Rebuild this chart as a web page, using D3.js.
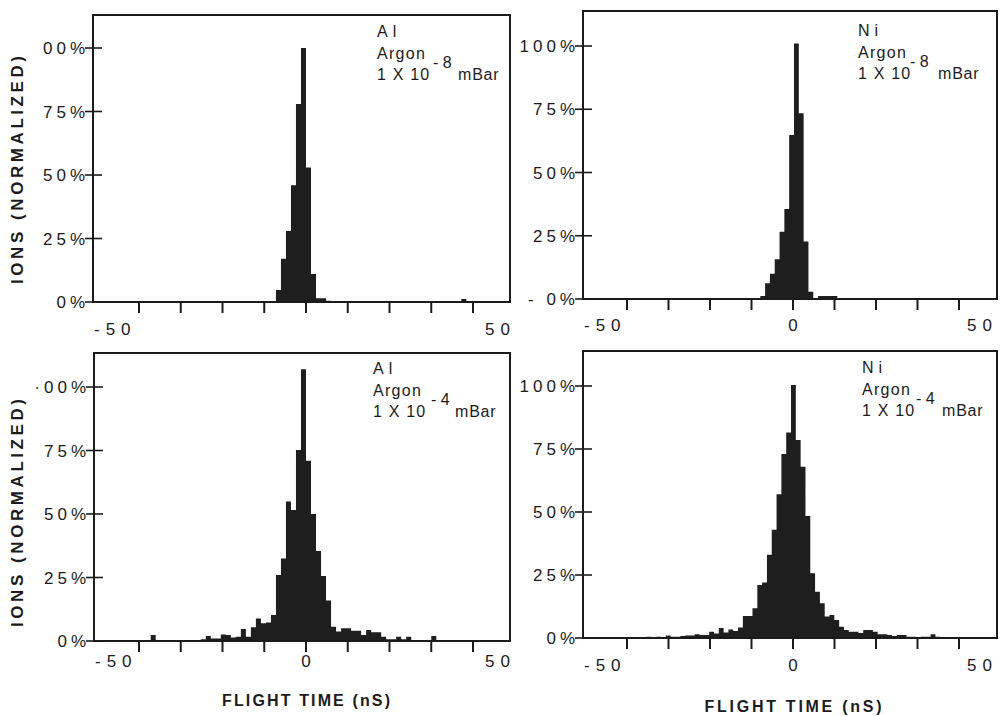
<!DOCTYPE html>
<html><head><meta charset="utf-8">
<script src="https://cdn.jsdelivr.net/npm/d3@7"></script>
<style>
body{margin:0;background:#fff}
svg{display:block}
text{font-family:"Liberation Sans",Arial,Helvetica,sans-serif;fill:#1b1b1b}
</style>
</head><body>
<svg id="c" width="1001" height="716"></svg>
<script>
// ---------- data ----------
const xTicks = [-50, -37.5, -25, -12.5, 0, 12.5, 25, 37.5, 50];
const yTicks = [0, 25, 50, 75, 100];

const yLabelsTL = ["0%", "25%", "50%", "75%", "00%"];
const yLabelsTR = ["- 0%", "25%", "50%", "75%", "100%"];
const yLabelsBL = ["0%", "25%", "50%", "75%", "\u00b700%"];
const yLabelsBR = ["0%", "25%", "50%", "75%", "100%"];

const xLabelsTL = [[-50, "-50"], [50, "50"]];
const xLabelsOther = [[-50, "-50"], [0, "0"], [50, "50"]];

// histogram values (% of maximum), contiguous bins
const alLowStart = -9, alLowWidth = 1.5;
const alLowValues = [4.7, 17, 28, 46, 78, 100, 53, 11, 1.5, 1.5, 0.5,
  0, 0, 0, 0, 0, 0, 0, 0, 0, 0, 0, 0, 0, 0, 0, 0, 0, 0, 0, 0, 0, 0, 0, 0, 0, 0, 1.2];

const niLowStart = -15.65, niLowWidth = 1.45;
const niLowValues = [0.4, 0.4, 0.4, 0.4, 1.2, 6.2, 10, 15.7, 26.6, 35.6, 64.8, 101,
  73.4, 22.7, 2.9, 0, 1.2, 1.2, 1.2, 1.2];

const alHighStart = -48, alHighWidth = 1.5;
const alHighValues = [0, 2.4, 0, 0, 0, 0, 0, 0, 0, 0, 0.3, 0.7, 2.0, 1.0, 1.0, 2.6, 2.4, 1.4, 1.7,
  4.7, 1.7, 5.4, 8.9, 7.0, 7.3, 10.2, 26, 32.5, 54.9, 51.6, 75.2, 107, 71, 50, 35.4, 25.6,
  15.9, 5.6, 3.7, 5.0, 5.0, 4.0, 4.0, 2.4, 4.3, 3.4, 3.4, 1.7, 0.7, 0.7, 1.7, 0.7, 1.7,
  0.3, 0.3, 0, 0, 2.0];

const niHighStart = -44.1, niHighWidth = 1.45;
const niHighValues = [0.5, 0, 0.5, 0.3, 1, 0.5, 0.5, 0.8, 1.0, 1.0, 1.5, 1.2, 1.2, 2.5, 1.8, 4,
  2.2, 3.4, 2.8, 4.2,
  8.7, 8.7, 11.8, 21, 22, 33, 43, 57, 73, 81.5,
  100.4,
  78.6, 68, 48.4, 25.7, 18.4, 13.8, 8.5, 9.1, 7.1, 4.5,
  3.2, 2.5, 2.5, 2.0, 3.2, 3.2, 2.5, 1.5, 1.5, 1.2, 0.8, 1.2, 1.2, 0.5, 0.5, 0.3, 0.5, 0.5,
  1.5, 0.5, 0, 0];

const annotationsTL = ["Al", "Argon", "1 X 10", "- 8", "mBar"];
const annotationsTR = ["Ni", "Argon", "1 X 10", "- 8", "mBar"];
const annotationsBL = ["Al", "Argon", "1 X 10", "- 4", "mBar"];
const annotationsBR = ["Ni", "Argon", "1 X 10", "- 4", "mBar"];

const yTitle = "IONS  (NORMALIZED)";
const xTitle = "FLIGHT TIME  (nS)";

// ---------- layout ----------
const panels = [
  {values: alLowValues, start: alLowStart, width: alLowWidth, yLabels: yLabelsTL, xLabels: xLabelsTL, ann: annotationsTL,
   frame: [93, 15, 510, 302], xr: [139, 473], yr: [302, 48], xLabY: 335, x50: 516, annX: 377, annY: 37, supDx: 56, barDx: 81},
  {values: niLowValues, start: niLowStart, width: niLowWidth, yLabels: yLabelsTR, xLabels: xLabelsOther, ann: annotationsTR,
   frame: [583, 11, 997, 299], xr: [627, 959], yr: [299, 46], xLabY: 331, x50: 998, annX: 858, annY: 36, supDx: 52, barDx: 80},
  {values: alHighValues, start: alHighStart, width: alHighWidth, yLabels: yLabelsBL, xLabels: xLabelsOther, ann: annotationsBL,
   frame: [94, 353, 510, 641], xr: [139, 473], yr: [641, 387], xLabY: 667, x50: 516, annX: 373, annY: 374, supDx: 58, barDx: 82},
  {values: niHighValues, start: niHighStart, width: niHighWidth, yLabels: yLabelsBR, xLabels: xLabelsOther, ann: annotationsBR,
   frame: [583, 351, 997, 638], xr: [627, 959], yr: [638, 386], xLabY: 671, x50: 998, annX: 862, annY: 373, supDx: 54, barDx: 80}
];

const svg = d3.select("#c");
svg.append("rect").attr("width", 1001).attr("height", 716).attr("fill", "#ffffff");

const ink = "#1b1b1b";

panels.forEach(p => {
  const x = d3.scaleLinear().domain([-50, 50]).range(p.xr);
  const y = d3.scaleLinear().domain([0, 100]).range(p.yr);
  const g = svg.append("g");
  const [x0, y0, x1, y1] = p.frame;

  // histogram as a single stepped area
  const pts = p.values.map((v, i) => ({t: p.start + i * p.width, v}));
  pts.push({t: p.start + p.values.length * p.width, v: 0});
  const area = d3.area()
    .x(d => x(d.t))
    .y0(y(0))
    .y1(d => y(d.v))
    .curve(d3.curveStepAfter);
  g.append("path").datum(pts).attr("d", area).attr("fill", "#1e1e1e");

  // frame
  g.append("path")
    .attr("d", `M${x0},${y(0)}L${x0},${y0}L${x1},${y0}L${x1},${y(0)}Z`)
    .attr("fill", "none").attr("stroke", ink).attr("stroke-width", 2);

  // x ticks
  g.selectAll("line.xt").data(xTicks).join("line").attr("class", "xt")
    .attr("x1", d => x(d)).attr("x2", d => x(d))
    .attr("y1", y(0)).attr("y2", y(0) + 11)
    .attr("stroke", ink).attr("stroke-width", 2);

  // y ticks
  g.selectAll("line.yt").data(yTicks).join("line").attr("class", "yt")
    .attr("x1", x0 - 8).attr("x2", x0 + 9)
    .attr("y1", d => y(d)).attr("y2", d => y(d))
    .attr("stroke", ink).attr("stroke-width", 1.6);

  g.selectAll("text.yl").data(yTicks).join("text").attr("class", "yl")
    .attr("x", x0 - 4).attr("y", d => y(d) + 6)
    .attr("text-anchor", "end")
    .attr("font-size", 17).attr("letter-spacing", 4)
    .text((d, i) => p.yLabels[i]);

  // x labels
  p.xLabels.forEach(([v, t]) => {
    let anchor = "middle", xx = x(v) + 3;
    if (v === -50) { anchor = "start"; xx = x0 + 1; }
    if (v === 50) { anchor = "end"; xx = p.x50; }
    g.append("text").attr("x", xx).attr("y", p.xLabY)
      .attr("text-anchor", anchor).attr("font-size", 17).attr("letter-spacing", 6)
      .text(t);
  });

  // annotation
  const a = p.ann;
  g.append("text").attr("x", p.annX).attr("y", p.annY).attr("font-size", 16).attr("letter-spacing", 5).text(a[0]);
  g.append("text").attr("x", p.annX).attr("y", p.annY + 22).attr("font-size", 16).attr("letter-spacing", 1.3).text(a[1]);
  g.append("text").attr("x", p.annX).attr("y", p.annY + 43).attr("font-size", 16).attr("letter-spacing", 1.2).text(a[2]);
  g.append("text").attr("x", p.annX + p.supDx).attr("y", p.annY + 31).attr("font-size", 16).text(a[3]);
  g.append("text").attr("x", p.annX + p.barDx).attr("y", p.annY + 43).attr("font-size", 16).attr("letter-spacing", 0.8).text(a[4]);
});

// axis titles
[[17, 170], [17, 513]].forEach(([cx, cy]) => {
  svg.append("text").attr("transform", `translate(${cx},${cy}) rotate(-90)`)
    .attr("text-anchor", "middle").attr("font-size", 17).attr("font-weight", "bold")
    .attr("textLength", 228).attr("lengthAdjust", "spacing")
    .attr("dy", "0.35em").text(yTitle);
});
[[306, 706, 168], [793, 712, 177]].forEach(([cx, cy, len]) => {
  svg.append("text").attr("x", cx).attr("y", cy)
    .attr("text-anchor", "middle").attr("font-size", 16).attr("font-weight", "bold")
    .attr("textLength", len).attr("lengthAdjust", "spacing")
    .text(xTitle);
});
</script>
</body></html>
